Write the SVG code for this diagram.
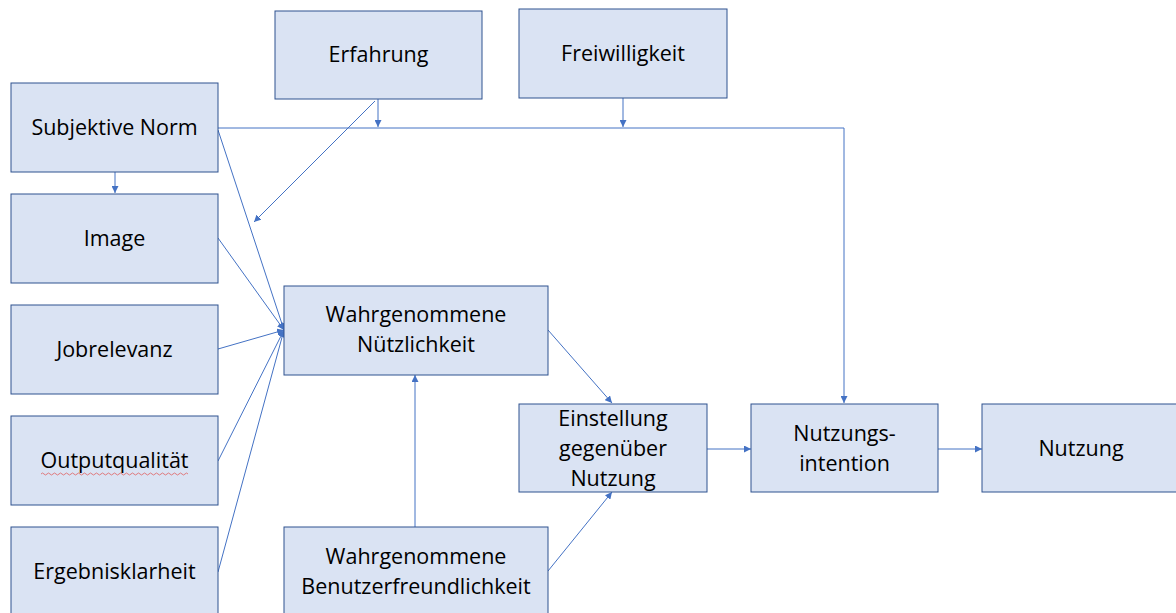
<svg xmlns="http://www.w3.org/2000/svg" width="1176" height="613" viewBox="0 0 1176 613">
<style>
.box{fill:#DAE3F3;stroke:#2F528F;stroke-width:1}
.t{font-family:"Open Sans","Liberation Sans",sans-serif;font-size:21.5px;fill:#000;text-anchor:middle}
.c{fill:none;stroke:#4472C4;stroke-width:1}
</style>
<defs>
<marker id="a" viewBox="0 0 10 10" refX="10" refY="5" markerWidth="7" markerHeight="7" markerUnits="userSpaceOnUse" orient="auto">
<path d="M0,0 L10,5 L0,10 z" fill="#4472C4"/>
</marker>
</defs>
<rect width="1176" height="613" fill="#fff"/>
<g id="connectors">
<path class="c" d="M218,128 H844 V403" marker-end="url(#a)"/>
<path class="c" d="M378,99 V127" marker-end="url(#a)"/>
<path class="c" d="M623,98 V127" marker-end="url(#a)"/>
<path class="c" d="M375,101 L254,222" marker-end="url(#a)"/>
<path class="c" d="M115,172 V193" marker-end="url(#a)"/>
<path class="c" d="M218,130 L284,330" marker-end="url(#a)"/>
<path class="c" d="M218,238 L284,330" marker-end="url(#a)"/>
<path class="c" d="M218,349 L284,330" marker-end="url(#a)"/>
<path class="c" d="M218,461 L284,330" marker-end="url(#a)"/>
<path class="c" d="M218,572 L284,330" marker-end="url(#a)"/>
<path class="c" d="M415,527 V375" marker-end="url(#a)"/>
<path class="c" d="M548,330 L612,403" marker-end="url(#a)"/>
<path class="c" d="M548,571 L612,492" marker-end="url(#a)"/>
<path class="c" d="M707,449 H751" marker-end="url(#a)"/>
<path class="c" d="M938,449 H982" marker-end="url(#a)"/>
</g>
<g id="erfahrung"><rect class="box" x="275" y="11" width="207" height="88"/><text class="t" x="378.5" y="62">Erfahrung</text></g>
<g id="freiwilligkeit"><rect class="box" x="519" y="9" width="208" height="89"/><text class="t" x="623" y="61">Freiwilligkeit</text></g>
<g id="subjektive-norm"><rect class="box" x="11" y="83" width="207" height="89"/><text class="t" x="114.5" y="135">Subjektive Norm</text></g>
<g id="image"><rect class="box" x="11" y="194" width="207" height="89"/><text class="t" x="114.5" y="246">Image</text></g>
<g id="jobrelevanz"><rect class="box" x="11" y="305" width="207" height="89"/><text class="t" x="114.5" y="357">Jobrelevanz</text></g>
<g id="outputqualitaet"><rect class="box" x="11" y="416" width="207" height="89"/><text class="t" x="114.5" y="468">Outputqualität</text>
<path d="M41,474 q1.5,-2 3,0 t3,0 t3,0 t3,0 t3,0 t3,0 t3,0 t3,0 t3,0 t3,0 t3,0 t3,0 t3,0 t3,0 t3,0 t3,0 t3,0 t3,0 t3,0 t3,0 t3,0 t3,0 t3,0 t3,0 t3,0 t3,0 t3,0 t3,0 t3,0 t3,0 t3,0 t3,0 t3,0 t3,0 t3,0 t3,0 t3,0 t3,0 t3,0 t3,0 t3,0 t3,0 t3,0 t3,0 t3,0 t3,0 t3,0 t3,0 t3,0" fill="none" stroke="#E06060" stroke-width="0.8"/></g>
<g id="ergebnisklarheit"><rect class="box" x="11" y="527" width="207" height="90"/><text class="t" x="114.5" y="579">Ergebnisklarheit</text></g>
<g id="wahrg-nuetzlichkeit"><rect class="box" x="284" y="286" width="264" height="89"/><text class="t" x="416" y="322">Wahrgenommene</text><text class="t" x="416" y="352">Nützlichkeit</text></g>
<g id="wahrg-benutzerfreundlichkeit"><rect class="box" x="284" y="527" width="264" height="90"/><text class="t" x="416" y="564">Wahrgenommene</text><text class="t" x="416" y="594">Benutzerfreundlichkeit</text></g>
<g id="einstellung"><rect class="box" x="519" y="404" width="188" height="88"/><text class="t" x="613" y="426">Einstellung</text><text class="t" x="613" y="456">gegenüber</text><text class="t" x="613" y="486">Nutzung</text></g>
<g id="nutzungsintention"><rect class="box" x="751" y="404" width="187" height="88"/><text class="t" x="844.5" y="441">Nutzungs-</text><text class="t" x="844.5" y="471">intention</text></g>
<g id="nutzung"><rect class="box" x="982" y="404" width="200" height="88"/><text class="t" x="1081" y="456">Nutzung</text></g>
</svg>
